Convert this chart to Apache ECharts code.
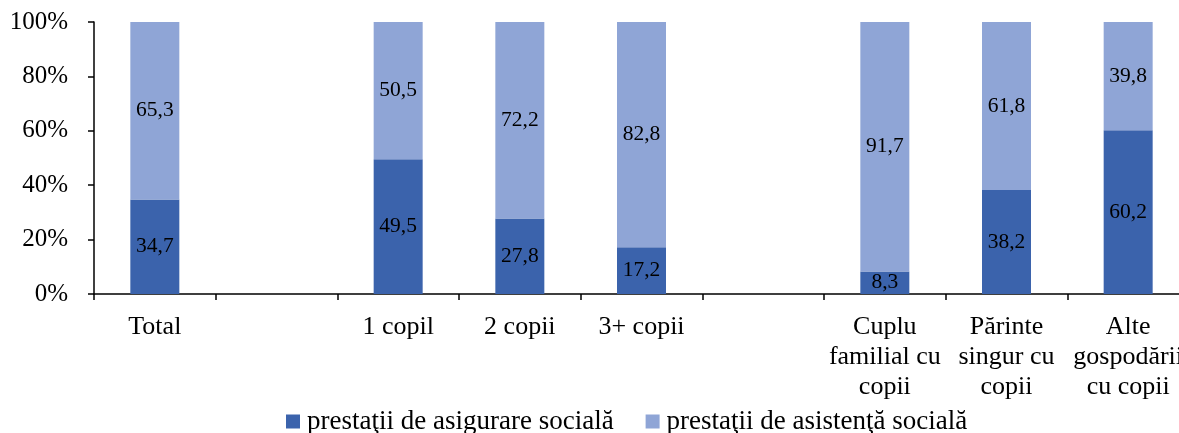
<!DOCTYPE html>
<html>
<head>
<meta charset="utf-8">
<script src="https://cdn.jsdelivr.net/npm/echarts@6/dist/echarts.min.js"></script>
<style>
  html, body { margin: 0; padding: 0; background: #fff; }
  #chart { width: 1179px; height: 433px; }
</style>
</head>
<body>
<div id="chart"></div>
<script>
// categorii (cele goale lasă spațiu între grupe)
var categories = ['Total', '', '1 copil', '2 copii', '3+ copii', '',
  'Cuplu\nfamilial cu\ncopii', 'Părinte\nsingur cu\ncopii', 'Alte\ngospodării\ncu copii']
// valori (%)
var asigurare = [34.7, null, 49.5, 27.8, 17.2, null, 8.3, 38.2, 60.2]
var asistenta = [65.3, null, 50.5, 72.2, 82.8, null, 91.7, 61.8, 39.8]
var yTicks = [0, 20, 40, 60, 80, 100]

var font = 'Liberation Serif'
var myChart = echarts.init(document.getElementById('chart'))

function fmt(p) {
  return p.value == null ? '' : p.value.toFixed(1).replace('.', ',')
}

var option = {
  animation: false,
  // grila iese puțin în afara imaginii în dreapta (ca în original)
  grid: {
    left: 94, width: 1095, top: 22, bottom: 139,
    containLabel: false, outerBoundsMode: 'none'
  },
  legend: {
    left: 281,
    top: 403,
    itemWidth: 14,
    itemHeight: 14,
    itemGap: 32,
    textStyle: { fontFamily: font, fontSize: 27, color: '#000', padding: [0, 0, 0, 2] },
    data: [
      { name: 'prestaţii de asigurare socială', icon: 'rect' },
      { name: 'prestaţii de asistenţă socială', icon: 'rect' }
    ]
  },
  xAxis: {
    type: 'category',
    data: categories,
    axisLine: { lineStyle: { color: '#000', width: 1.5 } },
    axisTick: { show: true, length: 6, lineStyle: { color: '#000', width: 1.5 } },
    axisLabel: {
      interval: 0, color: '#000', fontFamily: font, fontSize: 26,
      lineHeight: 30, margin: 18
    }
  },
  yAxis: {
    type: 'value',
    min: yTicks[0],
    max: yTicks[yTicks.length - 1],
    interval: 20,
    splitLine: { show: false },
    axisLine: { show: true, lineStyle: { color: '#000', width: 1.5 } },
    axisTick: { show: true, length: 6, lineStyle: { color: '#000', width: 1.5 } },
    axisLabel: {
      color: '#000', fontFamily: font, fontSize: 25, margin: 26,
      formatter: '{value}%'
    }
  },
  series: [
    {
      name: 'prestaţii de asigurare socială',
      type: 'bar',
      stack: 'total',
      barWidth: 49,
      data: asigurare,
      itemStyle: { color: '#3B63AC' },
      label: {
        show: true, position: 'inside', color: '#000',
        fontFamily: font, fontSize: 21.5, formatter: fmt
      }
    },
    {
      name: 'prestaţii de asistenţă socială',
      type: 'bar',
      stack: 'total',
      barWidth: 49,
      data: asistenta,
      itemStyle: { color: '#8FA5D6' },
      label: {
        show: true, position: 'inside', color: '#000',
        fontFamily: font, fontSize: 21.5, formatter: fmt
      }
    }
  ]
}
myChart.setOption(option)
</script>
</body>
</html>
